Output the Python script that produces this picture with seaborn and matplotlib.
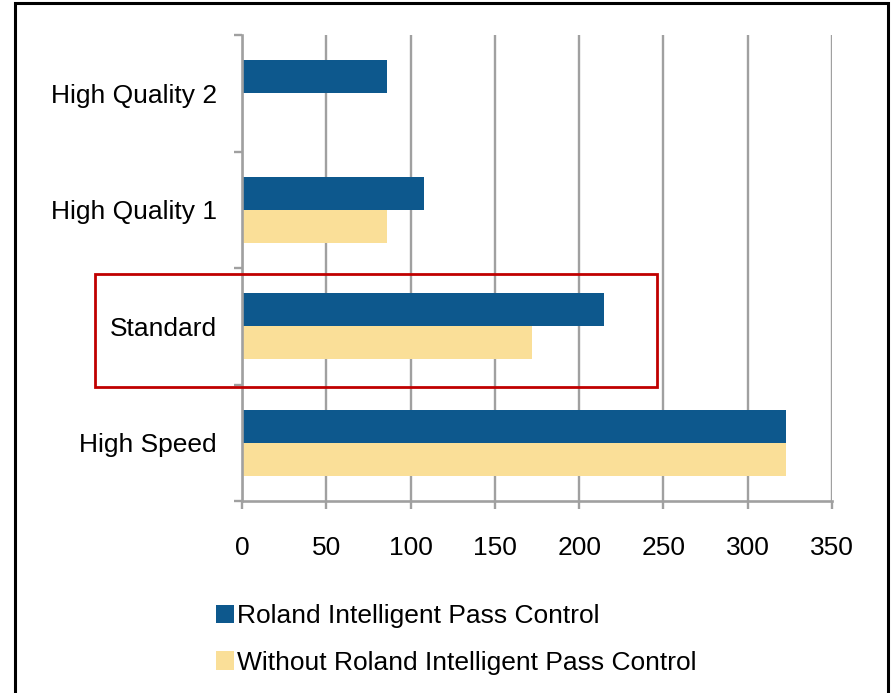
import numpy as np
import pandas as pd
import matplotlib
matplotlib.use("Agg")
import matplotlib.pyplot as plt
import seaborn as sns
from matplotlib.patches import Patch, Rectangle

# Données
modes = ["High Quality 2", "High Quality 1", "Standard", "High Speed"]
with_ipc = [86, 108, 215, 323]
without_ipc = [np.nan, 86, 172, 323]
series_names = ["Roland Intelligent Pass Control",
                "Without Roland Intelligent Pass Control"]
xticks = [0, 50, 100, 150, 200, 250, 300, 350]

blue = "#0D588D"
yellow = "#FADF98"
grid_grey = "#A0A0A0"

df = pd.DataFrame({
    "mode": modes * 2,
    "value": with_ipc + without_ipc,
    "serie": [series_names[0]] * len(modes) + [series_names[1]] * len(modes),
})

sns.set_style("white")
plt.rcParams["font.family"] = ["Liberation Sans", "DejaVu Sans"]
plt.rcParams["text.color"] = "black"
plt.rcParams["xtick.labelcolor"] = "black"
plt.rcParams["ytick.labelcolor"] = "black"

fig = plt.figure(figsize=(8.93, 6.93), dpi=100)
ax = fig.add_axes([242 / 893, 1 - 501 / 693, 590 / 893, 466 / 693])

sns.barplot(data=df, x="value", y="mode", hue="serie", order=modes,
            hue_order=series_names, palette=[blue, yellow], width=0.566,
            saturation=1, linewidth=0, ax=ax, legend=False)

ax.set_xlim(0, 350)
ax.set_ylim(3.5, -0.5)
ax.set_xticks(xticks)
ax.set_xlabel("")
ax.set_ylabel("")

# grille verticale
ax.set_axisbelow(True)
ax.grid(axis="x", color=grid_grey, linewidth=1.7)
ax.grid(axis="y", visible=False)

for side in ["top", "right"]:
    ax.spines[side].set_visible(False)
for side in ["left", "bottom"]:
    ax.spines[side].set_color(grid_grey)
    ax.spines[side].set_linewidth(1.9)

ax.tick_params(axis="x", which="major", direction="out", length=6, width=1.7,
               color=grid_grey, labelsize=19, pad=19, bottom=True,
               labelcolor="black")
ax.tick_params(axis="y", which="major", length=0, labelsize=19, pad=18,
               labelcolor="black")
ax.set_yticks(np.arange(-0.5, len(modes), 1.0), minor=True)
ax.tick_params(axis="y", which="minor", direction="out", length=6, width=1.7,
               color=grid_grey, left=True)

# cadre rouge autour de "Standard"
ax.add_patch(Rectangle((-87, 1.55), 333, 0.97, fill=False, edgecolor="#C00000",
                       linewidth=2, clip_on=False, zorder=5))

# légende
handles = [Patch(facecolor=blue, edgecolor="none"),
           Patch(facecolor=yellow, edgecolor="none")]
fig.legend(handles, series_names, loc="upper left",
           bbox_to_anchor=(216 / 893, 1 - 604 / 693), frameon=False,
           fontsize=19, handlelength=0.68, handleheight=0.68,
           handletextpad=0.12, labelspacing=0.86, borderpad=0,
           borderaxespad=0)

# cadre noir extérieur
fig.add_artist(Rectangle((15 / 893, -0.02), 873 / 893, 1.02 - 3 / 693,
                         transform=fig.transFigure, fill=False,
                         edgecolor="black", linewidth=2.2))

fig.savefig("out.png", dpi=100)
plt.close(fig)
